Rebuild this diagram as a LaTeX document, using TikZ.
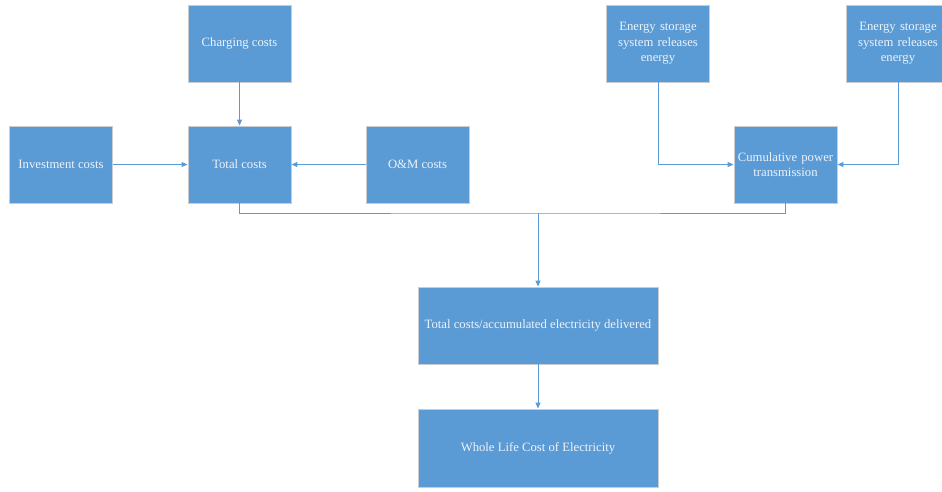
\documentclass[tikz,border=0pt]{standalone}
\usepackage{fontspec}
\setmainfont{Liberation Serif}
\usetikzlibrary{arrows.meta}
\definecolor{boxblue}{HTML}{5B9BD5}
\definecolor{boxedge}{HTML}{C9CDD2}
\definecolor{txt}{HTML}{EEF2F8}
\begin{document}
\begin{tikzpicture}[x=1pt,y=-1pt,
  box/.style={draw=boxedge,line width=0.9pt,fill=boxblue,text=txt,
    minimum width=103pt,minimum height=77pt,inner sep=1pt,align=center,
    font=\fontsize{12.7}{15.5}\selectfont},
  widebox/.style={box,minimum width=240pt},
  conn/.style={draw=boxblue,line width=1pt},
  arr/.style={conn,-{Triangle[length=6pt,width=5pt]}}]
\useasboundingbox (0,0) rectangle (942,491);
\node[box] (charge) at (239.5,43.5) {Charging costs};
\node[box] (invest) at (61,164.5) {Investment costs};
\node[box] (total) at (239.5,164.5) {Total costs};
\node[box] (om) at (417.5,164.5) {O\&M costs};
\node[box,text width=100pt] (es1) at (658,43.5) {Energy storage\\system releases\\energy};
\node[box,text width=100pt] (es2) at (898,43.5) {Energy storage\\system releases\\energy};
\node[box,text width=101pt] (cum) at (785.5,164.5) {Cumulative power\\transmission};
\node[widebox] (ratio) at (538,325.5) {Total costs/accumulated electricity delivered};
\node[widebox,minimum height=78pt] (whole) at (538,448) {Whole Life Cost of Electricity};
\coordinate (jn) at (538,213);
\draw[arr] (charge) -- (total);
\draw[arr] (invest) -- (total);
\draw[arr] (om) -- (total);
\draw[arr] (es1.south) |- (cum.west);
\draw[arr] (es2.south) |- (cum.east);
\draw[conn] (total.south) |- (jn) -| (cum.south);
\draw[arr] (jn) -- (ratio.north);
\draw[arr] (ratio) -- (whole);
\end{tikzpicture}
\end{document}
